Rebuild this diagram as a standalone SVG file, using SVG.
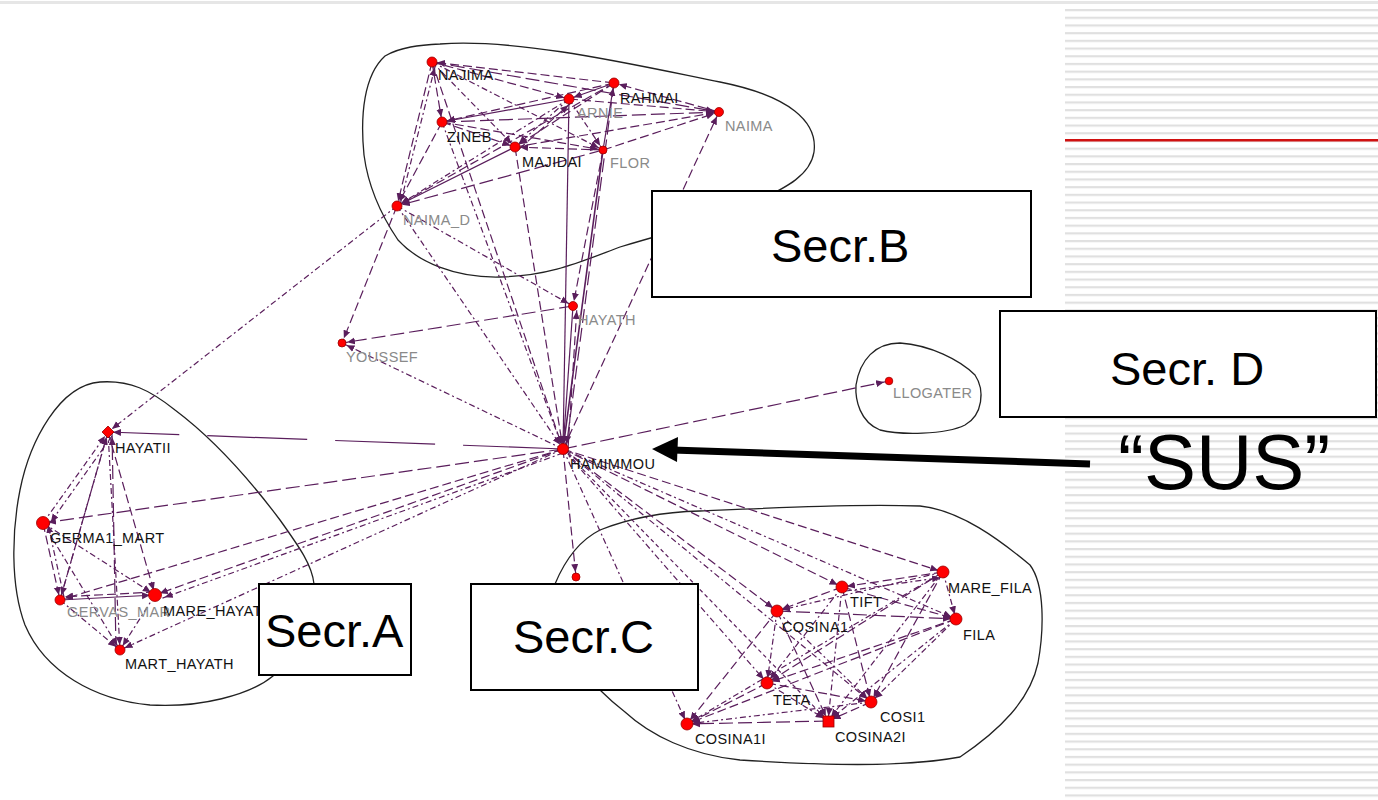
<svg xmlns="http://www.w3.org/2000/svg" width="1378" height="800" viewBox="0 0 1378 800">
<defs>
<marker id="ah" markerUnits="userSpaceOnUse" markerWidth="14" markerHeight="8" refX="13" refY="4" orient="auto"><path d="M0,0.5 L8,4 L0,7.5 z" fill="#5a1e5c"/></marker>
<pattern id="stripes" x="1065" y="9" width="313" height="7.7" patternUnits="userSpaceOnUse"><rect x="0" y="0" width="313" height="2.2" fill="#e0e0e0"/></pattern>
</defs>
<style>
.e{fill:none;stroke:#5a1e5c;stroke-width:1.2;marker-end:url(#ah)}
.d1{stroke-dasharray:9 4}
.d2{stroke-dasharray:6 3 2 3}
.d3{stroke-dasharray:14 5}
.d4{stroke-dasharray:4 3}
.dl{stroke-dasharray:100 28}
.hull{fill:none;stroke:#222;stroke-width:1.3}
.dot{fill:#ff0000;stroke:#990000;stroke-width:0.8}
.lb{font-family:"Liberation Sans",Arial,sans-serif;font-size:14.5px;letter-spacing:0.4px;fill:#111}
.lg{fill:#8a8a8a}
.box{fill:#fff;stroke:#000;stroke-width:2}
.bt{font-family:"Liberation Sans",Arial,sans-serif;font-size:47px;fill:#000}
</style>
<rect width="1378" height="800" fill="#fff"/>
<g id="background">
<rect x="0" y="1" width="1378" height="3" fill="#e6e6e6"/>
<rect x="1065" y="8" width="313" height="792" fill="url(#stripes)"/>
<rect x="1065" y="139" width="313" height="2.5" fill="#d01010"/>
</g>
<g id="hulls">
<path class="hull" d="M440,44 C520,38 640,66 720,82 C790,96 818,122 814,152 C810,178 780,190 750,205 L700,225 C670,232 650,238 620,247 C580,262 550,276 500,277 C455,278 418,262 398,240 C381,215 368,185 364,155 C360,115 364,75 385,56 C400,47 420,45 440,44 Z"/>
<path class="hull" d="M100,382 C130,380 150,390 175,410 C215,440 250,480 280,520 C300,548 312,565 314,584 L300,640 L273,676 C250,695 200,708 150,705 C95,700 45,672 25,625 C10,585 12,530 20,490 C30,440 60,385 100,382 Z"/>
<path class="hull" d="M555,584 C565,560 580,540 600,530 C630,518 660,512 700,511 C770,508 850,504 920,506 C960,510 1000,540 1030,565 C1045,585 1044,630 1038,663 C1030,700 1000,730 960,757 C900,768 820,765 740,760 C690,755 650,735 625,712 C612,702 605,695 600,690 Z"/>
<path class="hull" d="M900,343 C930,345 960,360 975,375 C985,390 983,415 965,425 C945,435 900,435 880,430 C860,422 855,400 856,385 C860,360 875,343 900,343 Z"/>
</g>
<g id="connectors">
<line class="e d1" x1="614" y1="83" x2="432" y2="62"/>
<line class="e d1" x1="432" y1="62" x2="569" y2="99"/>
<line class="e d3" x1="432" y1="62" x2="719" y2="112"/>
<line class="e d1" x1="432" y1="62" x2="442" y2="122"/>
<line class="e d2" x1="432" y1="62" x2="515" y2="147"/>
<line class="e d2" x1="432" y1="62" x2="603" y2="150"/>
<line class="e d1" x1="432" y1="62" x2="397" y2="206"/>
<line class="e d2" x1="400" y1="205" x2="436" y2="63"/>
<line class="e" x1="569" y1="99" x2="442" y2="122"/>
<line class="e d1" x1="614" y1="83" x2="442" y2="122"/>
<line class="e d1" x1="442" y1="122" x2="603" y2="150"/>
<line class="e d3" x1="442" y1="122" x2="719" y2="112"/>
<line class="e d1" x1="442" y1="122" x2="515" y2="147"/>
<line class="e d1" x1="442" y1="122" x2="397" y2="206"/>
<line class="e d2" x1="569" y1="99" x2="515" y2="147"/>
<line class="e d1" x1="518" y1="150" x2="572" y2="102"/>
<line class="e d1" x1="614" y1="83" x2="515" y2="147"/>
<line class="e d1" x1="603" y1="150" x2="515" y2="147"/>
<line class="e" x1="515" y1="147" x2="397" y2="206"/>
<line class="e d1" x1="515" y1="147" x2="719" y2="112"/>
<line class="e" x1="614" y1="83" x2="569" y2="99"/>
<line class="e d1" x1="569" y1="99" x2="719" y2="112"/>
<line class="e d2" x1="569" y1="99" x2="603" y2="150"/>
<line class="e d1" x1="719" y1="112" x2="614" y2="83"/>
<line class="e d1" x1="603" y1="150" x2="719" y2="112"/>
<line class="e" x1="603" y1="150" x2="614" y2="83"/>
<line class="e d2" x1="569" y1="99" x2="397" y2="206"/>
<line class="e d1" x1="614" y1="83" x2="397" y2="206"/>
<line class="e d3" x1="603" y1="150" x2="397" y2="206"/>
<line class="e d1" x1="563" y1="449" x2="719" y2="112"/>
<line class="e" x1="569" y1="99" x2="563" y2="449"/>
<line class="e" style="stroke-width:1.6" x1="603" y1="150" x2="563" y2="449"/>
<line class="e d3" x1="614" y1="83" x2="566" y2="449"/>
<line class="e d1" x1="432" y1="62" x2="563" y2="449"/>
<line class="e d2" x1="442" y1="122" x2="563" y2="449"/>
<line class="e d1" x1="515" y1="147" x2="563" y2="449"/>
<line class="e d2" x1="397" y1="206" x2="563" y2="449"/>
<line class="e" x1="573" y1="306" x2="563" y2="449"/>
<line class="e d1" x1="568" y1="449" x2="577" y2="306"/>
<line class="e d1" x1="603" y1="150" x2="573" y2="306"/>
<line class="e d2" x1="397" y1="206" x2="573" y2="306"/>
<line class="e d3" x1="573" y1="306" x2="342" y2="343"/>
<line class="e d1" x1="397" y1="206" x2="342" y2="343"/>
<line class="e d2" x1="563" y1="449" x2="342" y2="343"/>
<line class="e d2" x1="397" y1="206" x2="108" y2="432"/>
<line class="e d3" x1="563" y1="449" x2="889" y2="381"/>
<line class="e dl" x1="563" y1="449" x2="108" y2="432"/>
<line class="e d3" x1="563" y1="449" x2="43" y2="523"/>
<line class="e d1" x1="563" y1="449" x2="155" y2="595"/>
<line class="e d2" x1="563" y1="453" x2="160" y2="599"/>
<line class="e d1" x1="563" y1="449" x2="60" y2="600"/>
<line class="e d2" x1="563" y1="449" x2="120" y2="650"/>
<line class="e d1" x1="563" y1="449" x2="576" y2="577"/>
<line class="e d2" x1="563" y1="449" x2="687" y2="724"/>
<line class="e d2" x1="563" y1="449" x2="767" y2="683"/>
<line class="e d1" x1="563" y1="449" x2="777" y2="611"/>
<line class="e d1" x1="563" y1="449" x2="842" y2="587"/>
<line class="e d1" x1="563" y1="449" x2="943" y2="572"/>
<line class="e d2" x1="563" y1="449" x2="956" y2="619"/>
<line class="e d2" x1="563" y1="449" x2="871" y2="702"/>
<line class="e d4" x1="563" y1="449" x2="828" y2="721"/>
<line class="e d1" x1="842" y1="587" x2="777" y2="611"/>
<line class="e d1" x1="943" y1="572" x2="842" y2="587"/>
<line class="e d2" x1="846" y1="591" x2="945" y2="577"/>
<line class="e d2" x1="943" y1="572" x2="956" y2="619"/>
<line class="e d1" x1="842" y1="587" x2="956" y2="619"/>
<line class="e d3" x1="777" y1="611" x2="956" y2="619"/>
<line class="e d2" x1="943" y1="572" x2="777" y2="611"/>
<line class="e d2" x1="777" y1="611" x2="767" y2="683"/>
<line class="e d1" x1="777" y1="611" x2="687" y2="724"/>
<line class="e d2" x1="842" y1="587" x2="767" y2="683"/>
<line class="e d1" x1="842" y1="587" x2="871" y2="702"/>
<line class="e d2" x1="842" y1="587" x2="828" y2="721"/>
<line class="e d1" x1="943" y1="572" x2="767" y2="683"/>
<line class="e d2" x1="943" y1="572" x2="687" y2="724"/>
<line class="e d1" x1="943" y1="572" x2="871" y2="702"/>
<line class="e d2" x1="943" y1="572" x2="828" y2="721"/>
<line class="e d1" x1="956" y1="619" x2="767" y2="683"/>
<line class="e d1" x1="956" y1="619" x2="687" y2="724"/>
<line class="e d2" x1="956" y1="619" x2="828" y2="721"/>
<line class="e d2" x1="956" y1="619" x2="871" y2="702"/>
<line class="e d1" x1="767" y1="683" x2="687" y2="724"/>
<line class="e d1" x1="767" y1="683" x2="871" y2="702"/>
<line class="e d2" x1="767" y1="683" x2="828" y2="721"/>
<line class="e d1" x1="871" y1="702" x2="828" y2="721"/>
<line class="e d2" x1="871" y1="702" x2="687" y2="724"/>
<line class="e d3" x1="828" y1="721" x2="687" y2="724"/>
<line class="e d2" x1="777" y1="611" x2="871" y2="702"/>
<line class="e d1" x1="777" y1="611" x2="828" y2="721"/>
<line class="e d2" x1="43" y1="523" x2="108" y2="432"/>
<line class="e d2" x1="112" y1="436" x2="48" y2="526"/>
<line class="e d2" x1="108" y1="432" x2="60" y2="600"/>
<line class="e d1" x1="108" y1="432" x2="155" y2="595"/>
<line class="e d2" x1="108" y1="432" x2="120" y2="650"/>
<line class="e d1" x1="60" y1="600" x2="108" y2="432"/>
<line class="e d1" x1="43" y1="523" x2="60" y2="600"/>
<line class="e d2" x1="64" y1="597" x2="47" y2="520"/>
<line class="e d2" x1="43" y1="523" x2="155" y2="595"/>
<line class="e d2" x1="43" y1="523" x2="120" y2="650"/>
<line class="e" x1="60" y1="600" x2="155" y2="595"/>
<line class="e d1" x1="155" y1="592" x2="60" y2="597"/>
<line class="e d2" x1="60" y1="600" x2="120" y2="650"/>
<line class="e d2" x1="155" y1="595" x2="120" y2="650"/>
<line class="e d3" x1="116" y1="650" x2="112" y2="432"/>
</g>
<g id="nodes">
<g id="n-najima"><circle class="dot" cx="432" cy="62" r="5"/><text class="lb" x="438" y="80">NAJIMA</text></g>
<g id="n-rahmai"><circle class="dot" cx="614" cy="83" r="5"/><text class="lb" x="620" y="103">RAHMAI</text></g>
<g id="n-arnie"><circle class="dot" cx="569" cy="99" r="5"/><text class="lb lg" x="577" y="118">ARNIE</text></g>
<g id="n-naima"><circle class="dot" cx="719" cy="112" r="4.5"/><text class="lb lg" x="725" y="131">NAIMA</text></g>
<g id="n-zineb"><circle class="dot" cx="442" cy="122" r="5"/><text class="lb" x="447" y="142">ZINEB</text></g>
<g id="n-majidai"><circle class="dot" cx="515" cy="147" r="5"/><text class="lb" x="522" y="167">MAJIDAI</text></g>
<g id="n-flor"><circle class="dot" cx="603" cy="150" r="4"/><text class="lb lg" x="610" y="168">FLOR</text></g>
<g id="n-naima-d"><circle class="dot" cx="397" cy="206" r="5"/><text class="lb lg" x="403" y="225">NAIMA_D</text></g>
<g id="n-hayath"><circle class="dot" cx="573" cy="306" r="4.5"/><text class="lb lg" x="578" y="325">HAYATH</text></g>
<g id="n-youssef"><circle class="dot" cx="342" cy="343" r="4"/><text class="lb lg" x="346" y="362">YOUSSEF</text></g>
<g id="n-hamimmou"><circle class="dot" cx="563" cy="449" r="5.5"/><text class="lb" x="570" y="469">HAMIMMOU</text></g>
<g id="n-dot"><circle class="dot" cx="576" cy="577" r="4"/></g>
<g id="n-llogater"><circle class="dot" cx="889" cy="381" r="3.8"/><text class="lb lg" x="893" y="398">LLOGATER</text></g>
<g id="n-hayatii"><polygon class="dot" points="108,426 114,432 108,438 102,432"/><text class="lb" x="115" y="453">HAYATII</text></g>
<g id="n-germa1"><circle class="dot" cx="43" cy="523" r="6.5"/><text class="lb" x="50" y="543">GERMA1_MART</text></g>
<g id="n-gervas"><circle class="dot" cx="60" cy="600" r="5"/><text class="lb lg" x="67" y="617">GERVAS_MAR</text></g>
<g id="n-mare-hayat"><circle class="dot" cx="155" cy="595" r="6.5"/><text class="lb" x="163" y="616">MARE_HAYAT</text></g>
<g id="n-mart-hayath"><circle class="dot" cx="120" cy="650" r="5"/><text class="lb" x="125" y="669">MART_HAYATH</text></g>
<g id="n-mare-fila"><circle class="dot" cx="943" cy="572" r="6"/><text class="lb" x="948" y="593">MARE_FILA</text></g>
<g id="n-tift"><circle class="dot" cx="842" cy="587" r="6"/><text class="lb" x="850" y="607">TIFT</text></g>
<g id="n-cosina1"><circle class="dot" cx="777" cy="611" r="6"/><text class="lb" x="782" y="632">COSINA1</text></g>
<g id="n-fila"><circle class="dot" cx="956" cy="619" r="6"/><text class="lb" x="963" y="640">FILA</text></g>
<g id="n-teta"><circle class="dot" cx="767" cy="683" r="6"/><text class="lb" x="773" y="705">TETA</text></g>
<g id="n-cosi1"><circle class="dot" cx="871" cy="702" r="6"/><text class="lb" x="880" y="722">COSI1</text></g>
<g id="n-cosina2i"><rect class="dot" x="823" y="716" width="11" height="11"/><text class="lb" x="835" y="742">COSINA2I</text></g>
<g id="n-cosina1i"><circle class="dot" cx="687" cy="724" r="6"/><text class="lb" x="695" y="744">COSINA1I</text></g>
</g>
<g id="sectors">
<g id="secr-b"><rect class="box" x="652" y="191" width="379" height="106"/><text class="bt" x="771" y="262">Secr.B</text></g>
<g id="secr-a"><rect class="box" x="259" y="584" width="152" height="91"/><text class="bt" x="265" y="647">Secr.A</text></g>
<g id="secr-c"><rect class="box" x="471" y="584" width="227" height="106"/><text class="bt" x="513" y="653">Secr.C</text></g>
<g id="secr-d"><rect class="box" x="1000" y="311" width="376" height="106"/><text class="bt" x="1110" y="385">Secr. D</text></g>
</g>
<g id="sus">
<line x1="1090" y1="464" x2="672" y2="450" stroke="#000" stroke-width="7"/>
<polygon points="652,449 678,437 677,462" fill="#000"/>
<text x="1118" y="489" font-family="Liberation Sans, Arial, sans-serif" font-size="78" fill="#000">“SUS”</text>
</g>
</svg>
